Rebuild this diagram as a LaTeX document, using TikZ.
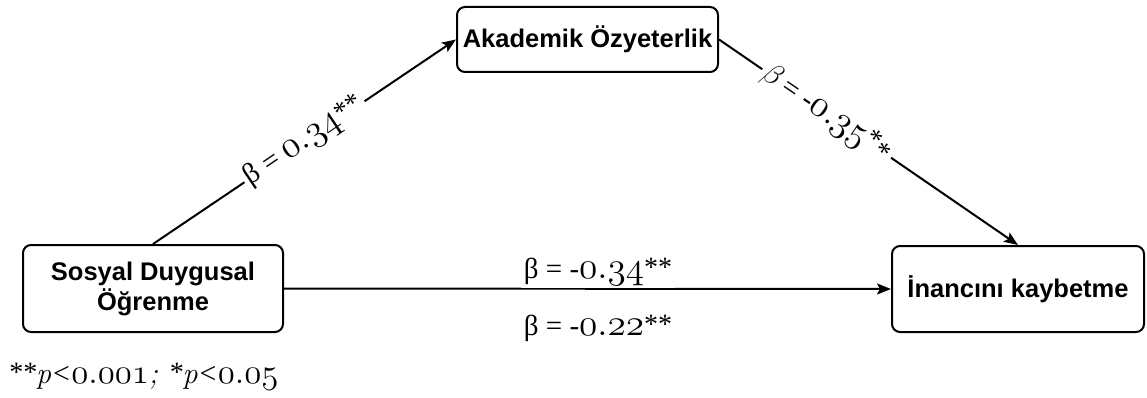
\documentclass[tikz,border=0pt]{standalone}
\usepackage{fontspec}
\usepackage{graphicx}
\usetikzlibrary{arrows.meta}
\newfontfamily\sansf{Liberation Sans}
\newfontfamily\timesf{Liberation Serif}
% old-style digits from Computer Modern math italic (\char58 is its period), scaled up
\newcommand\osn[2]{\scalebox{#1}{\fontsize{24.88}{24.88}\usefont{OML}{cmm}{m}{it}#2}}
\newcommand\stars{{\timesf\fontsize{28}{28}\selectfont\raisebox{2pt}{**}}}
\newcommand\bt{{\timesf β}}
\begin{document}
\begin{tikzpicture}[x=1pt,y=-1pt,
  box/.style={draw, line width=2pt, rounded corners=8pt, align=center,
    font=\fontsize{25.5}{30}\selectfont\sansf\bfseries, inner sep=2pt},
  arr/.style={line width=2pt, -{Stealth[length=14pt,width=11pt,inset=3pt]}},
  lab/.style={fill=white, inner sep=3pt, font=\fontsize{29}{32}\selectfont\timesf},
]
\useasboundingbox (0,0) rectangle (1147,398);
\node[box, minimum width=261pt, minimum height=65pt] (A) at (587.5,39.5) {Akademik Özyeterlik};
\node[box, minimum width=260pt, minimum height=87pt] (S) at (153,288.5) {Sosyal Duygusal\\Öğrenme};
\node[box, minimum width=252pt, minimum height=86pt] (I) at (1018,289) {İnancını kaybetme};

\draw[arr] (S.north) -- node[lab, sloped, pos=0.5] (l1) {\bt{} = \osn{1.5}{0\char58 34}\stars} (A.west);
\draw[arr] (A.east) -- node[lab, sloped, pos=0.36] (l2) {\osn{1.2}{\char12} = -\osn{1.5}{0\char58 35}{\timesf\fontsize{28}{28}\selectfont\raisebox{5pt}{*}\raisebox{-1pt}{*}}} (I.north);
\draw[arr] (S.east) -- (I.west);

\node[lab, anchor=base] (l3) at (598,278) {\bt{} = -\osn{1.5}{0\char58 34}\stars};
\node[lab, anchor=base] (l4) at (598,335) {\bt{} = -\osn{1.5}{0\char58 22}\stars};
\node[font=\fontsize{30}{32}\selectfont\itshape, anchor=base west, inner sep=0pt] (fn) at (8,383)
  {\stars p{\timesf\itshape<}\osn{1.4}{0\char58 001}; {\timesf\fontsize{28}{28}\selectfont\raisebox{2pt}{*}}p{\timesf\itshape<}\osn{1.4}{0\char58 05}};
\end{tikzpicture}
\end{document}
